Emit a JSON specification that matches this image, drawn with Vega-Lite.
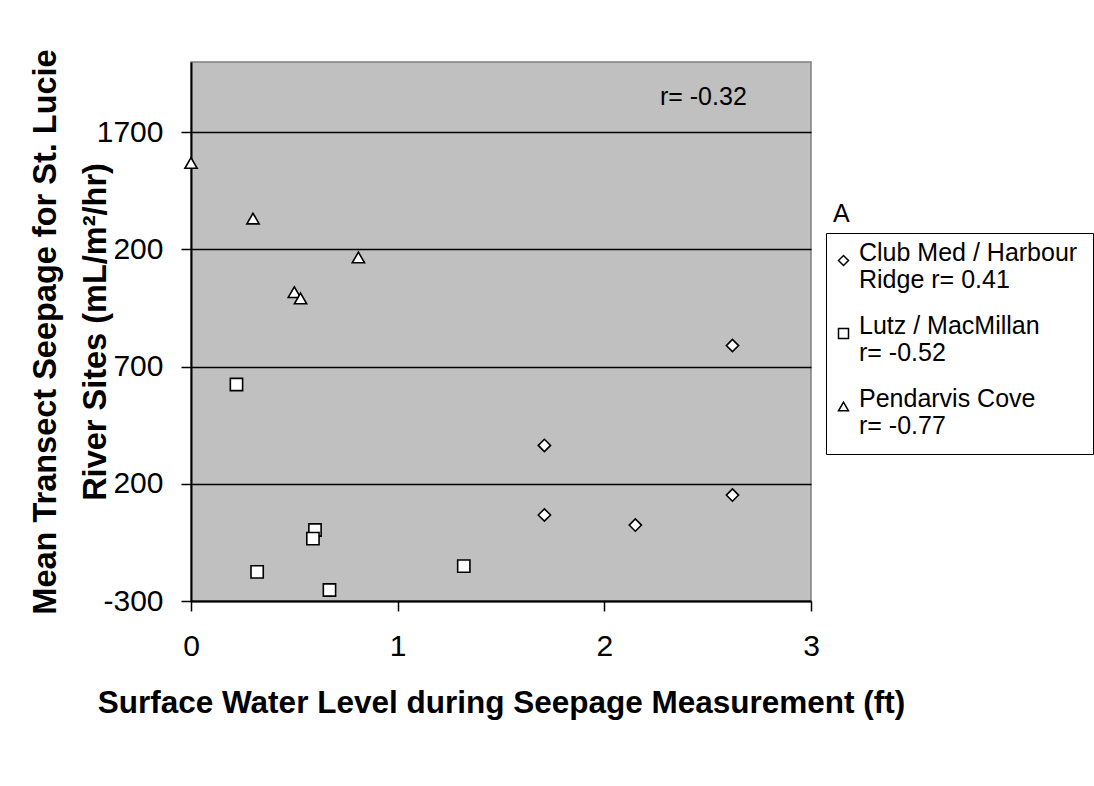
{
  "$schema": "https://vega.github.io/schema/vega-lite/v6.json",
  "width": 620,
  "height": 539,
  "autosize": {"type": "none"},
  "padding": {"left": 191, "top": 62, "right": 283, "bottom": 185},
  "background": "white",
  "config": {
    "font": "Liberation Sans",
    "view": {"fill": "#C0C0C0", "stroke": "#808080", "strokeWidth": 1.5}
  },
  "datasets": {
    "points": [
      {"site": "Club Med / Harbour|Ridge  r= 0.41", "level": 2.62, "seepage": 790},
      {"site": "Club Med / Harbour|Ridge  r= 0.41", "level": 1.71, "seepage": 364},
      {"site": "Club Med / Harbour|Ridge  r= 0.41", "level": 1.71, "seepage": 67},
      {"site": "Club Med / Harbour|Ridge  r= 0.41", "level": 2.15, "seepage": 24},
      {"site": "Club Med / Harbour|Ridge  r= 0.41", "level": 2.62, "seepage": 152},
      {"site": "Lutz / MacMillan|r= -0.52", "level": 0.22, "seepage": 624},
      {"site": "Lutz / MacMillan|r= -0.52", "level": 0.6, "seepage": 3},
      {"site": "Lutz / MacMillan|r= -0.52", "level": 0.59, "seepage": -34},
      {"site": "Lutz / MacMillan|r= -0.52", "level": 0.32, "seepage": -176},
      {"site": "Lutz / MacMillan|r= -0.52", "level": 0.67, "seepage": -253},
      {"site": "Lutz / MacMillan|r= -0.52", "level": 1.32, "seepage": -151},
      {"site": "Pendarvis Cove|r= -0.77", "level": 0, "seepage": 1569},
      {"site": "Pendarvis Cove|r= -0.77", "level": 0.3, "seepage": 1332},
      {"site": "Pendarvis Cove|r= -0.77", "level": 0.81, "seepage": 1166},
      {"site": "Pendarvis Cove|r= -0.77", "level": 0.5, "seepage": 1018},
      {"site": "Pendarvis Cove|r= -0.77", "level": 0.53, "seepage": 991}
    ],
    "notes": [
      {"label": "r= -0.32", "level": 2.269, "seepage": 1815},
      {"label": "A", "level": 3.106, "seepage": 1316}
    ]
  },
  "layer": [
    {
      "data": {"name": "points"},
      "mark": {"type": "point", "filled": false, "fill": "white", "fillOpacity": 1, "stroke": "black", "strokeWidth": 1.6, "opacity": 1, "size": 150},
      "encoding": {
        "x": {
          "field": "level", "type": "quantitative",
          "scale": {"domain": [0, 3], "nice": false, "zero": false},
          "axis": {
            "values": [0, 1, 2, 3],
            "format": "d",
            "title": "Surface Water Level during Seepage Measurement (ft)",
            "titleFont": "Liberation Sans",
            "titleFontSize": 31.5,
            "titleFontWeight": "bold",
            "titleColor": "black",
            "titleBaseline": "alphabetic",
            "titleY": 111,
            "labelFontSize": 30,
            "labelColor": "black",
            "labelBaseline": "alphabetic",
            "labelPadding": 44,
            "labelFlush": false,
            "tickSize": 10,
            "tickColor": "black",
            "tickWidth": 1.5,
            "domainColor": "black",
            "domainWidth": 2,
            "grid": false
          }
        },
        "y": {
          "field": "seepage", "type": "quantitative",
          "scale": {"domain": [-300, 2000], "nice": false, "zero": false},
          "axis": {
            "values": [-300, 200, 700, 1200, 1700],
            "labelExpr": "datum.value == 1200 ? '200' : '' + datum.value",
            "title": ["Mean Transect Seepage for St. Lucie", "River Sites (mL/m²/hr)"],
            "titleFont": "Liberation Sans",
            "titleFontSize": 32.5,
            "titleFontWeight": "bold",
            "titleColor": "black",
            "titleLineHeight": 50,
            "titleAngle": -90,
            "titleAlign": "center",
            "titleBaseline": "alphabetic",
            "titleX": -136,
            "titleY": 269.5,
            "labelFontSize": 30,
            "labelColor": "black",
            "labelPadding": 18,
            "labelFlush": false,
            "tickSize": 10,
            "tickColor": "black",
            "tickWidth": 1.5,
            "domainColor": "black",
            "domainWidth": 2,
            "grid": true,
            "gridColor": "black",
            "gridWidth": 1.5,
            "gridOpacity": 1
          }
        },
        "shape": {
          "field": "site", "type": "nominal",
          "scale": {
            "domain": ["Club Med / Harbour|Ridge  r= 0.41", "Lutz / MacMillan|r= -0.52", "Pendarvis Cove|r= -0.77"],
            "range": ["diamond", "square", "triangle-up"]
          },
          "legend": {
            "orient": "none",
            "legendX": 635,
            "legendY": 171,
            "title": null,
            "labelExpr": "split(datum.label, '|')",
            "labelFont": "Liberation Sans",
            "labelFontSize": 25,
            "labelColor": "black",
            "labelLimit": 400,
            "labelBaseline": "alphabetic",
            "labelOffset": 3,
            "symbolOffset": -10,
            "symbolSize": 100,
            "strokeColor": "black",
            "fillColor": "white",
            "padding": 15,
            "rowPadding": 20,
            "encoding": {
              "symbols": {
                "update": {
                  "fill": {"value": "white"},
                  "stroke": {"value": "black"},
                  "strokeWidth": {"value": 1.5},
                  "opacity": {"value": 1},
                  "size": {"value": 100}
                }
              }
            }
          }
        }
      }
    },
    {
      "data": {"name": "notes"},
      "mark": {"type": "text", "align": "left", "baseline": "alphabetic", "fontSize": 25, "font": "Liberation Sans", "color": "black"},
      "encoding": {
        "x": {"field": "level", "type": "quantitative", "scale": {"domain": [0, 3], "nice": false, "zero": false}},
        "y": {"field": "seepage", "type": "quantitative", "scale": {"domain": [-300, 2000], "nice": false, "zero": false}},
        "text": {"field": "label"}
      }
    }
  ]
}
